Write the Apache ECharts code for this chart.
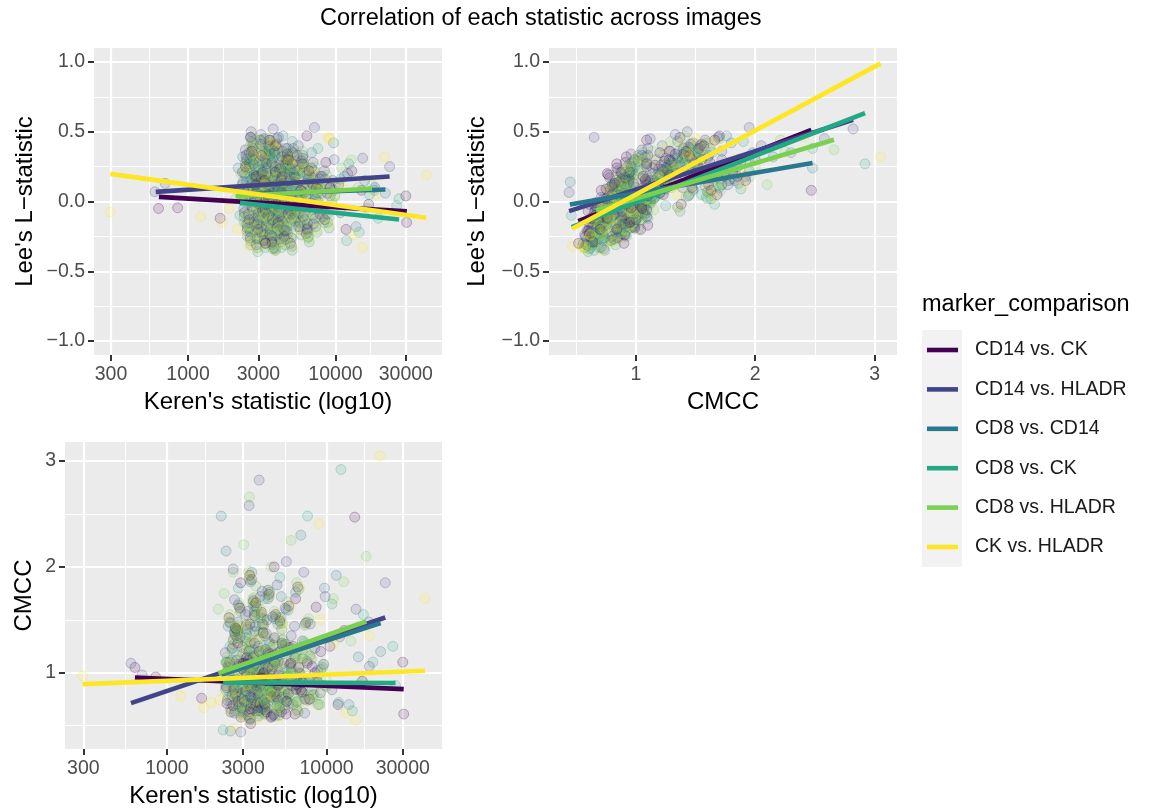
<!DOCTYPE html>
<html>
<head>
<meta charset="utf-8">
<script src="https://cdn.jsdelivr.net/npm/echarts@6/dist/echarts.min.js"></script>
<style>
  html, body { margin: 0; padding: 0; background: #ffffff; }
  #chart { width: 1153px; height: 811px; }
</style>
</head>
<body>
<div id="chart"></div>
<script>
const FONT = '"Liberation Sans", Arial, Helvetica, sans-serif';

const comparisons = ['CD14 vs. CK', 'CD14 vs. HLADR', 'CD8 vs. CD14', 'CD8 vs. CK', 'CD8 vs. HLADR', 'CK vs. HLADR'];
const palette = ['#440154', '#414487', '#2A788E', '#22A884', '#7AD151', '#FDE725'];

// Per-image statistics for each marker comparison (same image order in the three columns)
const kerenCD14vsCK = [
  2340,2410,2470,2520,2560,2610,2640,2690,2720,2760, 2800,2840,2880,2910,2950,2990,3020,3060,3100,3130,
  3170,3210,3240,3280,3310,3350,3390,3420,3460,3500, 3540,3580,3620,3660,3700,3740,3790,3830,3880,3920,
  3970,4010,4060,4110,4160,4210,4260,4320,4380,4440, 4500,4570,4640,4710,4790,4870,4950,5030,5120,5210,
  5310,5410,5520,5640,5760,5890,6030,6180,6340,6510, 6690,6880,7090,7320,7570,7840,8130,8450,8800,9200,
  2380,2590,2780,2970,3140,3330,3520,3710,3900,4090, 4290,4490,4720,4980,5260,5580,5960,6420,7000,2660,
  631,850,1650,30400,30000,15000,11800,12900,3350,10500,16800,8600,6400,2900,4700,
  2450,2870,3150,3480,3920,4350,5100,5800,6600,2700,3300,4000,4800,3600,7400
];
const leeCD14vsCK = [
  0.21,-0.08,0.33,-0.19,0.05,0.27,-0.26,0.12,-0.04,0.38, -0.15,0.02,0.18,-0.31,0.09,-0.11,0.25,-0.02,0.44,-0.22,
  0.07,-0.07,0.15,-0.28,0.31,0.00,-0.17,0.20,0.04,-0.10, 0.36,-0.24,0.11,-0.05,0.28,-0.13,0.06,-0.33,0.17,-0.01,
  0.41,-0.19,0.10,-0.08,0.23,-0.27,0.03,0.32,-0.14,0.13, -0.03,0.26,-0.21,0.08,-0.09,0.19,-0.30,0.01,0.35,-0.12,
  0.14,-0.06,0.22,-0.18,0.05,0.29,-0.11,0.09,-0.23,0.16, -0.04,0.24,-0.16,0.02,0.12,-0.09,0.18,-0.13,0.06,0.10,
  0.08,-0.13,0.30,-0.20,0.16,-0.06,0.40,-0.29,0.21,-0.15, 0.07,-0.25,0.34,-0.07,0.19,-0.02,0.27,-0.20,0.13,0.46,
  -0.05,-0.045,-0.12,-0.15,0.04,0.08,-0.20,0.22,-0.30,0.12,-0.02,0.28,0.47,0.18,0.30,
  0.25,0.12,0.33,0.05,0.40,0.18,0.27,0.08,0.22,0.36,0.15,-0.02,0.30,0.44,0.10
];
const cmccCD14vsCK = [
  0.88,1.06,1.10,0.63,1.23,0.84,0.85,0.80,0.94,1.40, 0.73,1.08,1.34,0.58,0.75,1.09,1.09,0.73,1.09,0.83,
  1.15,0.60,1.12,0.63,1.46,0.86,1.10,0.76,1.01,0.66, 1.28,0.91,0.88,1.00,0.91,0.78,1.20,0.71,0.89,0.66,
  1.46,0.99,1.00,0.70,1.22,0.63,0.92,0.92,0.91,1.18, 0.77,1.16,0.60,1.10,0.82,0.77,0.90,1.00,1.20,0.63,
  0.94,1.09,1.27,0.73,0.80,1.24,0.88,1.25,0.61,0.94, 1.05,0.84,0.91,0.75,1.09,0.75,1.06,1.00,0.91,1.20,
  0.71,0.69,1.28,1.04,1.08,0.66,1.54,0.64,0.95,0.95, 1.05,0.58,1.33,0.88,1.28,0.61,1.09,0.84,0.82,1.37,
  1.05,0.96,0.76,0.61,1.10,2.47,0.70,1.40,0.52,1.25,0.92,1.62,1.70,1.85,2.00,
  1.52,1.61,1.45,1.68,1.57,1.74,1.49,1.63,1.81,1.42,1.92,1.38,1.55,1.66,1.47
];

const kerenCD14vsHLADR = [
  2320,2390,2450,2500,2550,2600,2650,2700,2740,2780, 2820,2860,2900,2940,2980,3010,3050,3090,3120,3160,
  3190,3230,3260,3300,3340,3380,3410,3450,3490,3530, 3570,3610,3650,3690,3730,3770,3820,3860,3910,3950,
  4000,4040,4090,4140,4190,4240,4300,4360,4420,4480, 4550,4620,4690,4760,4840,4920,5000,5090,5180,5280,
  5380,5490,5610,5730,5860,6000,6150,6310,6480,6660, 6850,7060,7290,7540,7810,8100,8420,8770,9150,9600,
  2360,2570,2760,2950,3150,3340,3540,3720,3920,4110, 4310,4520,4740,5000,5290,5610,6000,6450,7040,2680,
  596,700,23300,15300,3780,3270,4100,2900,12100,18500,10800,7200,9800,5600,2600,4300,
  2500,2800,3100,3550,3850,4250,4900,5500,6300,2650,3200,3950,4600,3400,7900
];
const leeCD14vsHLADR = [
  0.12,-0.05,0.37,-0.16,0.09,0.24,-0.22,0.16,-0.01,0.42, -0.12,0.05,0.22,-0.27,0.13,-0.08,0.29,0.01,0.48,-0.18,
  0.11,-0.04,0.19,-0.24,0.34,0.03,-0.14,0.24,0.07,-0.07, 0.39,-0.20,0.15,-0.02,0.31,-0.10,0.09,-0.29,0.21,0.02,
  0.45,-0.16,0.14,-0.05,0.26,-0.23,0.06,0.36,-0.11,0.17, 0.00,0.30,-0.18,0.11,-0.06,0.23,-0.26,0.04,0.38,-0.09,
  0.18,-0.03,0.26,-0.15,0.08,0.33,-0.08,0.13,-0.19,0.20, -0.01,0.28,-0.12,0.06,0.16,-0.06,0.22,-0.09,0.10,0.15,
  0.14,-0.09,0.34,-0.16,0.20,-0.02,0.44,-0.25,0.25,-0.11, 0.11,-0.21,0.38,-0.03,0.23,0.02,0.31,-0.16,0.17,0.50,
  0.07,0.13,0.25,0.31,0.52,0.45,0.46,0.065,0.20,0.10,-0.08,0.53,0.30,0.40,0.35,0.15,
  0.30,0.19,0.41,0.10,0.36,0.24,0.15,0.33,0.04,0.46,0.21,0.12,0.38,0.27,0.18
];
const cmccCD14vsHLADR = [
  1.19,0.74,1.05,0.93,0.79,1.31,0.62,0.90,1.12,1.48, 0.70,1.04,0.85,0.81,1.24,0.65,1.02,0.83,1.33,0.98,
  0.92,1.07,1.20,0.57,0.96,0.71,0.87,1.14,1.16,0.76, 1.44,0.69,0.83,0.95,1.25,1.01,0.87,0.64,0.97,1.13,
  1.12,0.72,1.09,0.68,1.37,0.88,0.81,1.29,0.95,0.78, 1.03,0.99,0.61,1.17,0.80,1.19,0.74,0.90,1.52,0.77,
  0.94,0.66,1.21,0.94,1.08,1.05,0.70,1.15,0.85,0.88, 0.99,1.30,0.62,1.11,0.92,0.84,1.23,1.02,0.81,1.08,
  0.86,0.93,1.40,0.67,1.14,0.77,1.58,0.80,0.96,0.71, 1.19,0.59,1.10,0.98,1.26,0.73,1.35,0.89,0.91,1.43,
  1.09,0.98,1.85,1.60,2.82,2.58,0.65,0.44,1.34,1.06,0.84,1.95,1.72,2.05,1.98,1.78,
  1.47,1.64,1.55,1.39,1.72,1.50,1.83,1.61,1.44,1.69,1.58,1.77,1.53,1.88,1.46
];

const kerenCD8vsCD14 = [
  2330,2400,2460,2510,2560,2620,2660,2710,2750,2790, 2830,2870,2910,2950,2990,3030,3070,3100,3140,3180,
  3220,3250,3290,3330,3370,3400,3440,3480,3520,3560, 3600,3640,3680,3720,3770,3810,3860,3900,3950,3990,
  4040,4080,4130,4180,4230,4280,4340,4400,4460,4520, 4590,4660,4730,4800,4880,4960,5050,5140,5230,5330,
  5430,5540,5660,5780,5910,6060,6210,6370,6540,6720, 6920,7130,7360,7610,7880,8170,8490,8840,9230,9700,
  2370,2580,2770,2960,3160,3350,3550,3740,3930,4120, 4320,4530,4760,5020,5300,5630,6020,6480,7070,2700,
  2190,21800,2500,18400,11500,13800,2350,9700,6900,15800,4400,3400,5200,
  2420,2890,3200,3500,3880,4300,4950,5600,6400,2650,3350,4100,4750,3650,7600
];
const leeCD8vsCD14 = [
  0.06,-0.11,0.28,-0.21,0.03,0.20,-0.28,0.10,-0.06,0.34, -0.17,0.00,0.16,-0.33,0.07,-0.13,0.23,-0.04,0.40,-0.24,
  0.05,-0.09,0.13,-0.30,0.29,-0.02,-0.19,0.18,0.02,-0.12, 0.33,-0.26,0.09,-0.07,0.26,-0.15,0.04,-0.34,0.15,-0.03,
  0.38,-0.21,0.08,-0.10,0.21,-0.29,0.01,0.30,-0.16,0.11, -0.05,0.24,-0.23,0.06,-0.11,0.17,-0.32,-0.01,0.33,-0.14,
  0.12,-0.08,0.20,-0.20,0.03,0.27,-0.13,0.07,-0.25,0.14, -0.06,0.22,-0.18,0.00,0.10,-0.11,0.16,-0.15,0.04,0.08,
  0.04,-0.15,0.27,-0.22,0.14,-0.08,0.37,-0.31,0.19,-0.17, 0.05,-0.27,0.32,-0.09,0.17,-0.04,0.25,-0.22,0.11,0.43,
  0.24,0.06,0.14,0.08,0.18,-0.18,0.32,0.42,0.35,0.15,0.47,0.22,0.12,
  0.20,0.11,0.28,0.02,0.35,0.16,0.23,0.07,0.19,0.31,0.13,-0.04,0.26,0.38,0.09
];
const cmccCD8vsCD14 = [
  0.84,1.02,0.97,0.66,1.12,1.27,0.79,0.78,0.93,1.38, 0.68,1.06,0.88,0.62,1.18,0.74,1.05,0.79,1.22,0.90,
  0.85,1.08,1.21,0.56,1.29,0.70,0.95,0.90,1.15,0.64, 1.02,0.84,1.09,0.72,1.32,0.99,0.77,0.73,0.94,1.04,
  1.45,0.61,1.13,0.92,0.87,0.66,0.98,1.17,0.83,0.80, 1.06,1.26,0.78,0.89,0.69,1.10,0.60,0.86,1.41,0.97,
  0.82,0.76,1.19,0.71,1.07,0.95,0.88,1.14,0.65,1.00, 0.81,1.24,0.92,0.74,1.16,0.79,0.91,0.70,1.03,0.88,
  1.10,0.86,1.33,0.63,0.90,1.00,1.52,0.59,1.20,0.75, 0.83,0.82,1.08,0.67,1.27,0.96,0.93,0.72,1.13,1.35,
  2.48,1.20,0.45,1.48,1.92,0.70,2.15,1.80,2.30,1.15,1.76,1.95,1.72,
  1.44,1.58,1.41,1.63,1.52,1.70,1.46,1.60,1.76,1.39,1.86,1.35,1.51,1.62,1.48
];

const kerenCD8vsCK = [
  2340,2420,2480,2530,2580,2630,2670,2720,2760,2810, 2850,2890,2930,2970,3010,3040,3080,3120,3160,3190,
  3230,3270,3300,3340,3380,3420,3450,3490,3530,3570, 3610,3650,3700,3740,3780,3830,3870,3920,3960,4010,
  4050,4100,4150,4200,4250,4310,4370,4430,4490,4550, 4620,4690,4760,4840,4920,5000,5090,5180,5280,5380,
  5490,5600,5720,5850,5990,6130,6290,6460,6640,6830, 7030,7250,7490,7750,8030,8340,8680,9050,9460,9900,
  2380,2590,2790,2980,3180,3370,3560,3760,3950,4140, 4340,4550,4780,5040,5330,5660,6060,6520,7110,2720,
  2250,12300,27000,26000,14500,19500,10800,11900,7600,5100,17000,2800,4100,
  2460,2850,3180,3460,3900,4370,5150,5750,6700,2690,3280,4020,4830,3580,7300
];
const leeCD8vsCK = [
  0.01,-0.15,0.24,-0.25,-0.01,0.17,-0.31,0.06,-0.10,0.30, -0.21,-0.04,0.12,-0.36,0.03,-0.17,0.19,-0.08,0.36,-0.28,
  0.01,-0.13,0.09,-0.33,0.25,-0.06,-0.23,0.14,-0.02,-0.16, 0.29,-0.30,0.05,-0.11,0.22,-0.19,0.00,-0.35,0.11,-0.07,
  0.34,-0.25,0.04,-0.14,0.17,-0.33,-0.03,0.26,-0.20,0.07, -0.09,0.20,-0.27,0.02,-0.15,0.13,-0.35,-0.05,0.29,-0.18,
  0.08,-0.12,0.16,-0.24,-0.01,0.23,-0.17,0.03,-0.29,0.10, -0.10,0.18,-0.22,-0.04,0.06,-0.15,0.12,-0.19,0.00,0.04,
  0.00,-0.19,0.23,-0.26,0.10,-0.12,0.33,-0.34,0.15,-0.21, 0.01,-0.31,0.28,-0.13,0.13,-0.08,0.21,-0.26,0.07,0.39,
  -0.10,0.27,0.02,-0.03,-0.22,-0.12,0.16,-0.28,0.38,0.43,0.05,0.20,0.10,
  0.18,0.06,0.26,-0.02,0.33,0.12,0.21,0.03,0.16,0.29,0.09,-0.07,0.24,0.35,0.05
];
const cmccCD8vsCK = [
  1.10,0.77,1.25,0.92,0.81,0.95,0.64,1.17,0.73,1.06, 0.87,1.03,0.86,0.60,0.90,0.68,1.30,0.97,1.36,0.79,
  0.76,1.05,1.14,0.57,0.99,0.82,0.70,1.22,1.08,0.93, 1.44,0.66,0.85,0.76,1.02,0.96,1.12,0.74,0.88,0.68,
  1.50,0.62,1.04,0.90,1.18,0.69,0.80,1.27,0.84,0.92, 1.07,0.94,0.59,1.15,0.72,1.11,0.65,0.86,1.31,0.99,
  0.83,0.78,1.24,0.71,1.01,0.97,0.88,1.16,0.63,0.95, 0.82,1.28,0.91,0.75,1.13,0.79,0.93,0.70,1.05,0.87,
  1.09,0.88,1.35,0.64,0.91,1.01,1.54,0.61,1.21,0.74, 0.84,0.83,1.09,0.67,1.26,0.97,0.94,0.73,1.14,1.40,
  0.46,2.92,0.88,1.25,0.64,1.10,1.65,0.72,2.48,1.90,1.55,1.80,1.70,
  1.48,1.62,1.43,1.66,1.55,1.72,1.47,1.59,1.79,1.41,1.88,1.37,1.53,1.64,1.45
];

const kerenCD8vsHLADR = [
  2350,2430,2490,2540,2590,2640,2680,2730,2770,2820, 2860,2900,2940,2980,3020,3050,3090,3130,3170,3200,
  3240,3280,3310,3350,3390,3430,3460,3500,3540,3580, 3620,3660,3710,3750,3790,3840,3880,3930,3970,4020,
  4060,4110,4160,4210,4260,4320,4380,4440,4500,4560, 4630,4700,4770,4850,4930,5010,5100,5190,5290,5390,
  5500,5610,5730,5860,6000,6140,6300,6470,6650,6840, 7040,7260,7500,7760,8040,8350,8690,9060,9470,9950,
  2390,2600,2800,2990,3190,3380,3570,3770,3960,4150, 4350,4560,4790,5050,5340,5670,6070,6530,7120,2740,
  2100,17700,3290,3030,2600,14200,11000,16500,6000,12800,2280,4500,3600,
  2480,2830,3120,3520,3860,4290,5050,5650,6500,2620,3250,3980,4700,3450,7700
];
const leeCD8vsHLADR = [
  0.09,-0.07,0.31,-0.17,0.06,0.22,-0.23,0.13,-0.03,0.36, -0.14,0.03,0.18,-0.27,0.10,-0.10,0.26,-0.01,0.43,-0.20,
  0.08,-0.06,0.16,-0.25,0.32,0.01,-0.16,0.21,0.05,-0.09, 0.35,-0.22,0.12,-0.04,0.28,-0.12,0.07,-0.28,0.18,0.00,
  0.41,-0.18,0.11,-0.07,0.23,-0.24,0.04,0.33,-0.13,0.14, -0.02,0.27,-0.19,0.09,-0.08,0.20,-0.26,0.02,0.35,-0.10,
  0.15,-0.05,0.23,-0.16,0.06,0.30,-0.09,0.10,-0.20,0.17, -0.03,0.25,-0.14,0.03,0.13,-0.08,0.19,-0.11,0.07,0.12,
  0.10,-0.11,0.31,-0.18,0.17,-0.04,0.42,-0.23,0.23,-0.12, 0.08,-0.19,0.36,-0.04,0.20,0.00,0.28,-0.13,0.14,0.47,
  0.02,0.12,0.37,0.44,0.29,0.10,0.24,-0.05,0.36,0.30,0.20,0.25,0.16,
  0.26,0.15,0.36,0.08,0.42,0.21,0.29,0.11,0.24,0.39,0.18,0.03,0.32,0.45,0.13
];
const cmccCD8vsHLADR = [
  0.86,1.10,1.02,0.72,1.19,1.33,0.91,0.82,0.99,1.45, 0.74,1.12,0.93,0.69,1.25,0.80,1.08,0.84,1.29,1.02,
  0.90,1.15,1.27,0.70,1.35,0.76,1.00,0.95,1.21,0.71, 1.06,0.88,1.16,0.77,1.38,1.05,0.83,0.78,0.98,1.10,
  1.51,0.68,1.20,0.97,0.92,0.72,1.04,1.23,0.89,0.85, 1.12,1.31,0.82,0.94,0.74,1.16,0.67,0.91,1.47,1.03,
  0.88,0.81,1.25,0.76,1.13,1.00,0.93,1.19,0.71,1.05, 0.86,1.30,0.97,0.79,1.22,0.84,0.96,0.75,1.08,0.93,
  1.15,0.92,1.39,0.69,0.95,1.06,1.58,0.85,1.26,0.78, 0.89,0.88,1.14,0.72,1.32,1.01,0.99,0.77,1.18,1.41,
  1.60,2.10,2.66,2.21,1.95,1.30,1.70,0.92,2.25,1.86,1.75,2.00,1.82,
  1.55,1.66,1.49,1.71,1.60,1.78,1.52,1.67,1.85,1.46,1.96,1.42,1.58,1.70,1.51
];

const kerenCKvsHLADR = [
  2330,2410,2470,2520,2570,2620,2660,2710,2750,2800, 2840,2880,2920,2960,3000,3040,3080,3110,3150,3190,
  3220,3260,3300,3330,3370,3410,3440,3480,3520,3560, 3600,3640,3690,3730,3770,3820,3860,3910,3950,4000,
  4040,4090,4140,4190,4240,4300,4360,4420,4480,4540, 4610,4680,4750,4830,4910,4990,5080,5170,5270,5370,
  5480,5590,5710,5840,5980,6120,6280,6450,6630,6820, 7020,7240,7480,7740,8020,8330,8670,9040,9450,9880,
  2370,2580,2780,2970,3170,3360,3550,3750,3940,4130, 4330,4540,4770,5030,5320,5650,6050,6510,7100,2710,
  297,1220,1700,21500,41300,15200,2600,9100,13200,18600,2150,11200,1900,8950,3300,
  2440,2860,3170,3440,3940,4400,5200,5900,6800,2730,3310,4060,4850,3700,7500
];
const leeCKvsHLADR = [
  0.03,-0.12,0.26,-0.23,0.01,0.19,-0.29,0.08,-0.08,0.32, -0.19,-0.02,0.14,-0.34,0.05,-0.15,0.21,-0.06,0.38,-0.26,
  0.03,-0.11,0.11,-0.31,0.27,-0.04,-0.21,0.16,0.00,-0.14, 0.31,-0.28,0.07,-0.09,0.24,-0.17,0.02,-0.35,0.13,-0.05,
  0.36,-0.23,0.06,-0.12,0.19,-0.31,-0.01,0.28,-0.18,0.09, -0.07,0.22,-0.25,0.04,-0.13,0.15,-0.33,-0.03,0.31,-0.16,
  0.10,-0.10,0.18,-0.22,0.01,0.25,-0.15,0.05,-0.27,0.12, -0.08,0.20,-0.20,-0.02,0.08,-0.13,0.14,-0.17,0.02,0.06,
  0.02,-0.17,0.25,-0.24,0.12,-0.10,0.35,-0.32,0.17,-0.19, 0.03,-0.29,0.30,-0.11,0.15,-0.06,0.23,-0.24,0.09,0.41,
  -0.075,-0.11,-0.15,0.32,0.19,-0.33,-0.32,0.45,-0.24,0.05,-0.20,0.10,-0.05,0.46,0.20,
  0.22,0.09,0.31,0.03,0.38,0.14,0.25,0.06,0.20,0.34,0.12,-0.05,0.28,0.42,0.08
];
const cmccCKvsHLADR = [
  0.81,1.02,0.98,0.64,1.10,1.28,0.78,0.76,0.94,1.40, 0.66,1.04,0.87,0.58,1.16,0.71,1.03,0.76,1.24,0.88,
  0.84,1.06,1.19,0.55,1.30,0.69,0.93,0.89,1.13,0.62, 1.00,0.83,1.08,0.70,1.33,0.97,0.77,0.71,0.92,1.02,
  1.47,0.60,1.12,0.89,0.86,0.65,0.96,1.16,0.82,0.79, 1.05,1.25,0.77,0.88,0.67,1.09,0.59,0.85,1.42,0.96,
  0.81,0.75,1.18,0.70,1.06,0.94,0.87,1.13,0.63,0.99, 0.80,1.23,0.91,0.73,1.15,0.78,0.90,0.69,1.02,0.86,
  1.08,0.85,1.34,0.62,0.89,0.99,1.53,0.57,1.20,0.73, 0.82,0.80,1.07,0.66,1.27,0.95,0.92,0.71,1.12,1.37,
  0.97,0.78,0.67,3.05,1.70,0.55,0.47,1.50,0.62,1.35,0.74,1.28,0.72,2.41,1.90,
  1.50,1.60,1.44,1.65,1.56,1.73,1.48,1.62,1.80,1.43,1.90,1.36,1.54,1.65,1.46
];

// Least-squares fits per comparison, as [x start, y start, x end, y end]
const fitLeeOnKeren = [
  [635, 0.033, 30500, -0.071], [604, 0.069, 23300, 0.179], [2190, 0.05, 21800, 0.086],
  [2250, -0.009, 27000, -0.129], [2100, 0.038, 17700, 0.093], [297, 0.198, 41300, -0.117]
];
const fitLeeOnCmcc = [
  [0.517, -0.14, 2.47, 0.514], [0.44, -0.069, 2.82, 0.586], [0.447, -0.021, 2.48, 0.276],
  [0.461, -0.184, 2.92, 0.633], [0.665, -0.064, 2.66, 0.443], [0.466, -0.195, 3.05, 0.99]
];
const fitCmccOnKeren = [
  [631, 0.956, 30400, 0.846], [596, 0.714, 23300, 1.522], [2190, 0.98, 21800, 1.469],
  [2250, 0.909, 27000, 0.903], [2100, 0.997, 17700, 1.484], [297, 0.893, 41300, 1.019]
];

// Axis breaks and limits
const kerenTicks = [300, 1000, 3000, 10000, 30000];
const leeTicks = [-1, -0.5, 0, 0.5, 1];
const cmccTicks = [1, 2, 3];
const kerenLimits = [230.2, 52800];
const leeLimits = [-1.1, 1.1];
const cmccLimitsX = [0.272, 3.188];
const cmccLimitsY = [0.28, 3.18];

const groups = [
  [kerenCD14vsCK, leeCD14vsCK, cmccCD14vsCK],
  [kerenCD14vsHLADR, leeCD14vsHLADR, cmccCD14vsHLADR],
  [kerenCD8vsCD14, leeCD8vsCD14, cmccCD8vsCD14],
  [kerenCD8vsCK, leeCD8vsCK, cmccCD8vsCK],
  [kerenCD8vsHLADR, leeCD8vsHLADR, cmccCD8vsHLADR],
  [kerenCKvsHLADR, leeCKvsHLADR, cmccCKvsHLADR]
];

const log10 = Math.log10;
const midpoints = a => a.slice(1).map((v, i) => (a[i] + v) / 2);

const kerenMajor = kerenTicks.map(log10);
const kerenMinor = midpoints(kerenMajor);
const leeMinor = midpoints(leeTicks);
const cmccMinor = [0.5, 1.5, 2.5];

const fmtKeren = v => String(Math.round(Math.pow(10, v)));
const fmtLee = v => (v < 0 ? '\u2212' : '') + Math.abs(v).toFixed(1);
const fmtCmcc = v => String(v);

function rgba(hex, a) {
  const n = parseInt(hex.slice(1), 16);
  return 'rgba(' + ((n >> 16) & 255) + ',' + ((n >> 8) & 255) + ',' + (n & 255) + ',' + a + ')';
}

// Points are drawn image by image, cycling through the comparisons,
// so that no colour sits wholly on top of another
function scatterItems(pick) {
  const items = [];
  const n = Math.max.apply(null, groups.map(g => g[0].length));
  for (let i = 0; i < n; i++) {
    groups.forEach((g, k) => {
      if (i < g[0].length) {
        items.push({
          value: pick(g[0][i], g[1][i], g[2][i]),
          itemStyle: { color: rgba(palette[k], 0.18), borderColor: rgba(palette[k], 0.34), borderWidth: 1 }
        });
      }
    });
  }
  return items;
}

function majorAxis(gridIndex, limits, ticks, fmt, name, nameGap, labelMargin) {
  return {
    type: 'value', gridIndex, min: limits[0], max: limits[1],
    name, nameLocation: 'middle', nameGap,
    nameTextStyle: { fontFamily: FONT, fontSize: 24, color: '#000000' },
    axisLine: { show: false, onZero: false },
    axisTick: { show: true, length: 6, customValues: ticks, lineStyle: { color: '#333333', width: 2 } },
    axisLabel: { show: true, customValues: ticks, formatter: fmt, margin: labelMargin,
                 fontFamily: FONT, fontSize: 19.5, color: '#4D4D4D' },
    splitLine: { show: true, lineStyle: { color: '#FFFFFF', width: 2.2 } },
    splitArea: { show: false }
  };
}
function minorAxis(gridIndex, limits, ticks) {
  return {
    type: 'value', gridIndex, min: limits[0], max: limits[1],
    axisLine: { show: false, onZero: false },
    axisTick: { show: false, customValues: ticks },
    axisLabel: { show: false, customValues: ticks },
    splitLine: { show: true, lineStyle: { color: '#FFFFFF', width: 1.1 } },
    splitArea: { show: false }
  };
}

const grids = [
  { left: 94, top: 48, width: 348, height: 307 },
  { left: 549, top: 48, width: 348, height: 307 },
  { left: 65, top: 442, width: 377, height: 307 }
].map(g => Object.assign({ show: true, backgroundColor: '#EBEBEB', borderWidth: 0 }, g));

const xAxes = [
  majorAxis(0, kerenLimits.map(log10), kerenMajor, fmtKeren, "Keren's statistic (log10)", 35, 10),
  minorAxis(0, kerenLimits.map(log10), kerenMinor),
  majorAxis(1, cmccLimitsX, cmccTicks, fmtCmcc, 'CMCC', 35, 10),
  minorAxis(1, cmccLimitsX, cmccMinor),
  majorAxis(2, kerenLimits.map(log10), kerenMajor, fmtKeren, "Keren's statistic (log10)", 35, 10),
  minorAxis(2, kerenLimits.map(log10), kerenMinor)
];
const yAxes = [
  majorAxis(0, leeLimits, leeTicks, fmtLee, "Lee's L\u2212statistic", 57, 9),
  minorAxis(0, leeLimits, leeMinor),
  majorAxis(1, leeLimits, leeTicks, fmtLee, "Lee's L\u2212statistic", 60, 9),
  minorAxis(1, leeLimits, leeMinor),
  majorAxis(2, cmccLimitsY, cmccTicks, fmtCmcc, 'CMCC', 29, 9),
  minorAxis(2, cmccLimitsY, cmccMinor)
];

const panels = [
  { axis: 0, point: (k, l, c) => [log10(k), l], fits: fitLeeOnKeren, fx: log10 },
  { axis: 2, point: (k, l, c) => [c, l], fits: fitLeeOnCmcc, fx: v => v },
  { axis: 4, point: (k, l, c) => [log10(k), c], fits: fitCmccOnKeren, fx: log10 }
];

const series = [];
panels.forEach(p => {
  series.push({
    type: 'scatter', name: 'images', xAxisIndex: p.axis, yAxisIndex: p.axis,
    symbol: 'circle', symbolSize: 10, data: scatterItems(p.point), z: 2, silent: true
  });
});
panels.forEach(p => {
  p.fits.forEach((f, k) => {
    series.push({
      type: 'line', name: comparisons[k], xAxisIndex: p.axis, yAxisIndex: p.axis,
      data: [[p.fx(f[0]), f[1]], [p.fx(f[2]), f[3]]],
      symbol: 'none', z: 3, silent: true,
      lineStyle: { color: palette[k], width: 4.6, cap: 'butt' },
      itemStyle: { color: palette[k] }
    });
  });
});

const chart = echarts.init(document.getElementById('chart'), null, { renderer: 'canvas' });
chart.setOption({
  animation: false,
  backgroundColor: '#FFFFFF',
  textStyle: { fontFamily: FONT },
  grid: grids,
  xAxis: xAxes,
  yAxis: yAxes,
  legend: {
    orient: 'vertical', left: 927, top: 340, padding: 0,
    data: comparisons, icon: 'rect', itemWidth: 31, itemHeight: 4.6, itemGap: 19.4,
    selectedMode: false,
    textStyle: { fontFamily: FONT, fontSize: 19.5, color: '#1A1A1A', lineHeight: 20, padding: [0, 0, 0, 12] }
  },
  graphic: [
    { type: 'text', left: 541 - 221, top: 7,
      style: { text: 'Correlation of each statistic across images', font: '23.5px ' + FONT, fill: '#000000' } },
    { type: 'text', left: 922, top: 293,
      style: { text: 'marker_comparison', font: '23.5px ' + FONT, fill: '#000000' } },
    { type: 'rect', left: 922, top: 330, z: -1,
      shape: { width: 40, height: 237 }, style: { fill: '#F2F2F2' } }
  ],
  series
});
</script>
</body>
</html>
